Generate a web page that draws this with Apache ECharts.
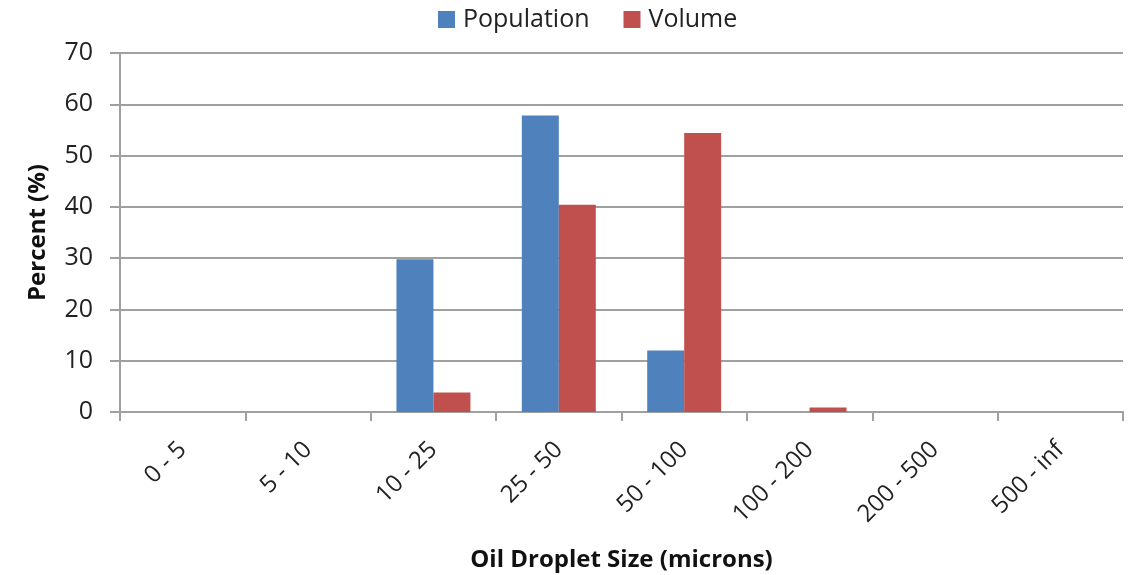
<!DOCTYPE html>
<html><head><meta charset="utf-8">
<script src="https://cdn.jsdelivr.net/npm/echarts@6/dist/echarts.min.js"></script>
<style>html,body{margin:0;padding:0;background:#fff}#c{width:1144px;height:575px}</style>
</head><body><div id="c"></div>
<script>
const categories = ["0 - 5","5 - 10","10 - 25","25 - 50","50 - 100","100 - 200","200 - 500","500 - inf"];
const population = [0, 0, 29.8, 57.8, 12.0, 0, 0, 0];
const volume = [0, 0, 3.8, 40.4, 54.4, 0.9, 0, 0];
const yTicks = {min: 0, max: 70, interval: 10};
const font = "'Open Sans', 'Liberation Sans', sans-serif";
const chart = echarts.init(document.getElementById('c'), null, {renderer: 'canvas'});
chart.setOption({
  backgroundColor: '#fff',
  animation: false,
  legend: {
    top: 2, left: 433, itemWidth: 17, itemHeight: 17, itemGap: 34,
    icon: 'rect',
    textStyle: {fontFamily: font, fontSize: 25, color: '#222', padding: [0, 0, 0, 3]},
    data: ['Population', 'Volume']
  },
  grid: {left: 120, right: 21, top: 53, bottom: 163, containLabel: false, outerBoundsMode: 'none'},
  xAxis: {
    type: 'category', data: categories,
    name: 'Oil Droplet Size (microns)', nameLocation: 'middle', nameGap: 136,
    nameTextStyle: {fontFamily: font, fontSize: 24, fontWeight: 'bold', color: '#111'},
    axisLine: {lineStyle: {color: '#a0a0a0', width: 2}},
    axisTick: {show: true, length: 9, lineStyle: {color: '#a0a0a0', width: 2}},
    axisLabel: {rotate: 45, fontFamily: font, fontSize: 24, color: '#222', margin: 34, interval: 0}
  },
  yAxis: {
    type: 'value', min: yTicks.min, max: yTicks.max, interval: yTicks.interval,
    name: 'Percent (%)', nameLocation: 'middle', nameGap: 70,
    nameTextStyle: {fontFamily: font, fontSize: 24, fontWeight: 'bold', color: '#111'},
    axisLine: {show: true, lineStyle: {color: '#a0a0a0', width: 2}},
    axisTick: {show: true, length: 10, lineStyle: {color: '#a0a0a0', width: 2}},
    axisLabel: {fontFamily: font, fontSize: 25, color: '#222', margin: 27},
    splitLine: {lineStyle: {color: '#a0a0a0', width: 2}}
  },
  series: [
    {name: 'Population', type: 'bar', data: population, barGap: '0%', barCategoryGap: '41%',
     itemStyle: {color: '#4F81BD'}},
    {name: 'Volume', type: 'bar', data: volume, barGap: '0%', barCategoryGap: '41%',
     itemStyle: {color: '#C0504D'}}
  ]
});
</script></body></html>
